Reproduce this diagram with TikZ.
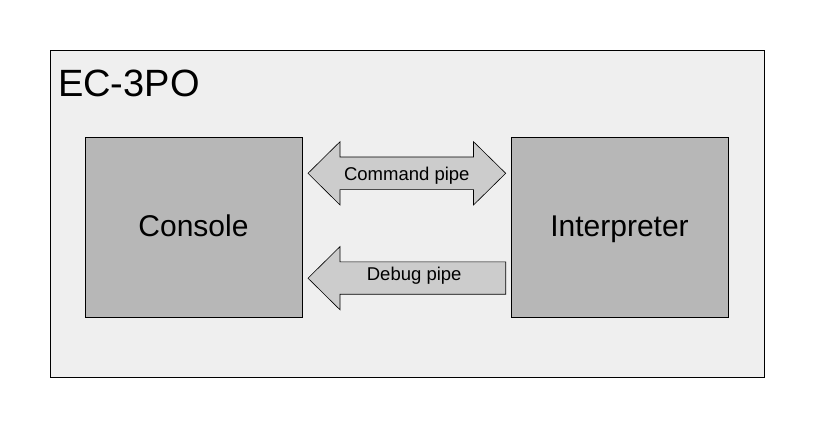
\documentclass[tikz,border=0pt]{standalone}
\usepackage{fontspec}
\setmainfont{Liberation Sans}
\usetikzlibrary{positioning}
\definecolor{framegray}{HTML}{EFEFEF}
\definecolor{boxgray}{HTML}{B7B7B7}
\definecolor{pipegray}{HTML}{CCCCCC}
\tikzset{frame node/.style={rectangle,draw=black,fill=framegray,line width=1pt,inner sep=0pt},
         block node/.style={rectangle,draw=black,fill=boxgray,line width=0.9pt,inner sep=0pt,minimum width=217pt,minimum height=179.5pt,
                            text height=21.5pt,text depth=3.6pt,font=\fontsize{30}{30}\selectfont},
         pipe/.style={draw=black,fill=pipegray,line width=0.6pt,line join=miter},
         pipe label/.style={rectangle,draw=none,fill=none,inner sep=0pt,text height=13.3pt,text depth=0pt,font=\fontsize{18.5}{18.5}\selectfont}
}
\begin{document}
\begin{tikzpicture}[x=1pt,y=-1pt]
\useasboundingbox[fill=white] (0,0) rectangle (814,428);
\node[frame node,minimum width=714pt,minimum height=327pt,anchor=north west] (frame) at (50,50) {};
\node[anchor=base west,inner sep=0pt,font=\fontsize{38}{38}\selectfont] (title) at (58,96.7) {EC-3PO};
\node[block node] (console) at (193.5,227.3) {Console};
\node[block node] (interp) at (619.5,227.3) {Interpreter};
% command pipe, both ways
\draw[pipe] (308,173.3) -- (340,141.7) -- (340,157) -- (473.5,157) -- (473.5,141.7)
    -- (505.7,173.3) -- (473.5,205) -- (473.5,189.6) -- (340,189.6) -- (340,205) -- cycle;
\node[pipe label] (cmd) at (406.8,174) {Command pipe};
% debug pipe, back to the console
\draw[pipe] (308,278.2) -- (340,246.6) -- (340,261.9) -- (505.7,261.9) -- (505.7,294.2)
    -- (340,294.2) -- (340,309.8) -- cycle;
\node[pipe label] (dbg) at (414.2,274) {Debug pipe};
\end{tikzpicture}
\end{document}
